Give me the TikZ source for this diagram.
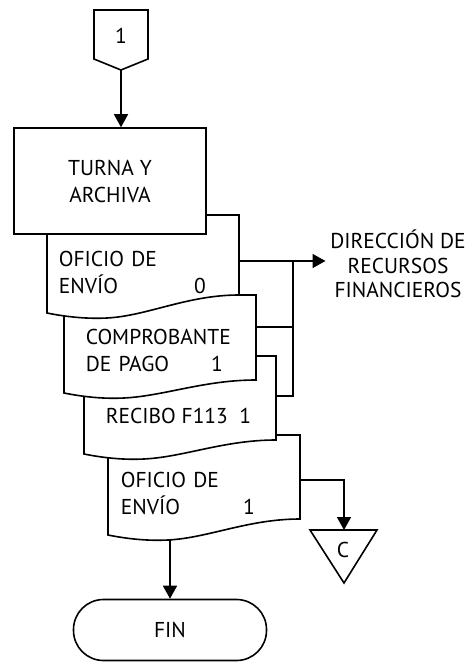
\documentclass[tikz,border=0pt]{standalone}
\usepackage{fontspec}
\setmainfont{PT Sans}
\usetikzlibrary{arrows.meta}
% documento con borde ondulado: x, arriba, abajo izq., caida der.
\newcommand{\docwave}[4]{%
  \filldraw[fill=white] (#1,#2) -- (#1,#3)
    .. controls (#1+20,#3+4) and (#1+40,#3+6) .. (#1+60,#3+5)
    .. controls (#1+100,#3+3) and (#1+140,#3-#4) .. (#1+192,#3-#4)
    -- (#1+192,#2) -- cycle;}
\newcommand{\pushr}{\hskip 0pt plus 1fill\relax}
\begin{document}
\begin{tikzpicture}[x=1pt,y=-1pt,line width=1.6pt,
  flow/.style={-{Triangle[length=13pt,width=14pt]}},
  lbl/.style={font=\fontsize{21.5}{27}\selectfont,inner sep=0pt,align=left}]
\useasboundingbox (0,0) rectangle (470,663);

% conector de entrada
\filldraw[fill=white] (94,10) -- (148,10) -- (148,59) -- (121,70) -- (94,59) -- cycle;
\node[lbl] (con1) at (121,36) {1};
\coordinate (con1tip) at (121,70);

% documentos, del fondo al frente
\docwave{108}{435}{535}{16}
\node[lbl,anchor=west,text width=134pt] (ofi2) at (120,493) {OFICIO DE\\ENV\'IO\pushr 1};
\coordinate (d4r) at (300,480);
\coordinate (d4b) at (170,539);

\docwave{84}{356}{454}{14}
\node[lbl,anchor=west] (rec) at (105,416) {RECIBO F113~~1};
\coordinate (d3r) at (276,396);

\docwave{64}{295}{393}{13}
\node[lbl,anchor=west,text width=137pt] (comp) at (85,350) {COMPROBANTE\\DE PAGO\pushr 1};
\coordinate (d2r) at (256,327);

\docwave{47}{215}{313}{18}
\node[lbl,anchor=west,text width=147pt] (ofi1) at (58,272) {OFICIO DE\\ENV\'IO\pushr 0};
\coordinate (d1r) at (239,261);

% proceso
\node[lbl,draw,fill=white,align=center,minimum width=192pt,minimum height=106pt] (turna) at (110,181) {TURNA Y\\ARCHIVA};
\draw[flow] (con1tip) -- (con1tip |- turna.north);

% destino
\node[lbl,align=center,font=\fontsize{21.5}{24.5}\selectfont] (drf) at (398,264) {DIRECCI\'ON DE\\RECURSOS\\FINANCIEROS};
\coordinate (jn) at (293,261);
\draw[flow,shorten >=4pt] (d1r) -- (d1r -| drf.west);
\draw (d3r) -| (jn);
\draw (d2r) -- (d2r -| jn);

% conector C
\draw (310,530) -- (377,530) -- (344,583) -- cycle;
\node[lbl] (cnc) at (343,550) {C};
\coordinate (ctop) at (344,530);
\draw[flow] (d4r) -| (ctop);

% fin
\node[lbl,draw,rounded corners=30pt,minimum width=193pt,minimum height=61pt] (fin) at (170,630) {FIN};
\draw[flow] (d4b) -- (fin);
\end{tikzpicture}
\end{document}
